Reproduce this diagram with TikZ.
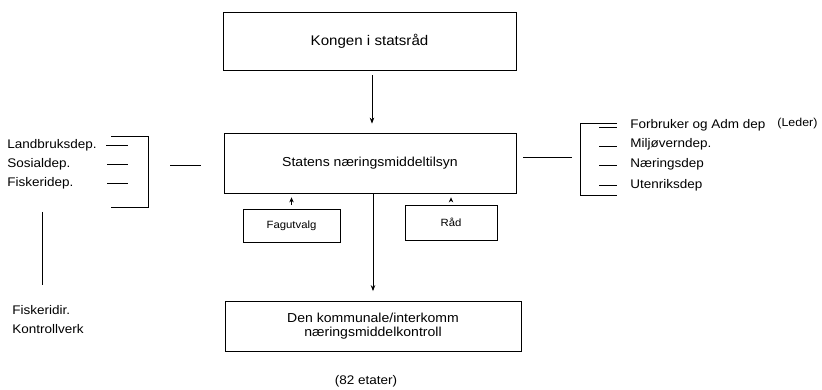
\documentclass[tikz,border=0pt]{standalone}
\usepackage{fontspec}
\setmainfont[FakeStretch=1.08]{Liberation Sans}
\usetikzlibrary{arrows.meta}
\begin{document}
\begin{tikzpicture}[x=1pt,y=-1pt,
  line width=0.8pt,
  bigbox/.style={draw, rectangle, inner sep=0pt, font=\fontsize{13}{14}\selectfont, align=center},
  smallbox/.style={draw, rectangle, inner sep=0pt, font=\fontsize{10.5}{12}\selectfont},
  lbl/.style={anchor=west, inner sep=0pt, font=\fontsize{12.5}{14}\selectfont},
  arr/.style={-{Stealth[length=6pt,width=4.5pt]}},
  sarr/.style={-{Stealth[length=5pt,width=4.5pt]}}]
\useasboundingbox (0,0) rectangle (822,390);

\node[bigbox, minimum width=293pt, minimum height=58pt, font=\fontsize{14}{16}\selectfont] (kongen) at (369.5,41) {Kongen i statsråd};
\node[bigbox, minimum width=292pt, minimum height=60pt] (statens) at (370,163) {Statens næringsmiddeltilsyn};
\node[smallbox, minimum width=97pt, minimum height=33pt] (fag) at (291.5,226) {Fagutvalg};
\node[smallbox, minimum width=92pt, minimum height=35pt] (raad) at (451,222.5) {Råd};
\node[bigbox, minimum width=296pt, minimum height=50pt] (den) at (373,326.5) {Den kommunale/interkomm\\næringsmiddelkontroll};
\node[lbl, anchor=center] (etater) at (366,381) {(82 etater)};

\draw[arr, shorten <=5pt, shorten >=9pt] (kongen.south -| 372,0) -- (statens.north -| 372,0);
\draw[arr, shorten >=10pt] (statens.south -| 373,0) -- (den.north -| 373,0);
\draw[sarr, shorten <=4pt, shorten >=4pt] (fag.north) -- (fag.north |- statens.south);
\draw[sarr, shorten <=4pt, shorten >=4pt] (raad.north) -- (raad.north |- statens.south);

% left group
\node[lbl] (landbruk) at (7,145) {Landbruksdep.};
\node[lbl] (sosial) at (7,164) {Sosialdep.};
\node[lbl] (fiskeri) at (7,183) {Fiskeridep.};
\coordinate (lt) at (111,136);
\coordinate (lb) at (111,207);
\draw (lt) -- (148,136) -- (148,207) -- (lb);
\draw (106,145) -- (128,145);
\draw (107,164) -- (128,164);
\draw (107,183) -- (128,183);
\coordinate (lc1) at (170,165);
\coordinate (lc2) at (201,165);
\draw (lc1) -- (lc2);
\coordinate (lv1) at (42,212);
\coordinate (lv2) at (42,285);
\draw (lv1) -- (lv2);
\node[lbl] (fdir) at (12,310) {Fiskeridir.};
\node[lbl] (kverk) at (12,329) {Kontrollverk};

% right group
\coordinate (rc1) at (523,157);
\coordinate (rc2) at (572,157);
\draw (rc1) -- (rc2);
\coordinate (rt) at (617,123);
\coordinate (rb) at (617,195);
\draw (rt) -- (580,123) -- (580,195) -- (rb);
\draw (599,127) -- (617,127);
\draw (599,146) -- (617,146);
\draw (599,165) -- (617,165);
\draw (599,185) -- (617,185);
\node[lbl] (forbruker) at (630,125) {Forbruker og Adm dep};
\node[lbl, font=\fontsize{11.5}{12}\selectfont] (leder) at (777,124) {(Leder)};
\node[lbl] (miljo) at (630,144) {Miljøverndep.};
\node[lbl] (naering) at (630,164) {Næringsdep};
\node[lbl] (utenriks) at (630,185) {Utenriksdep};
\end{tikzpicture}
\end{document}
